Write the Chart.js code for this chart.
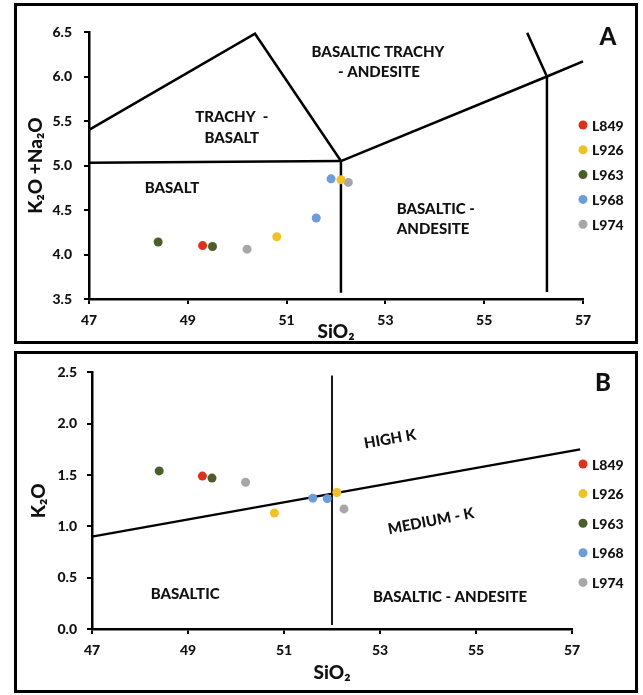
<!DOCTYPE html>
<html>
<head>
<meta charset="utf-8">
<script src="https://cdn.jsdelivr.net/npm/chart.js@4.4.1/dist/chart.umd.min.js"></script>
<style>
  body { margin: 0; background: #fff; }
  .panel { position: absolute; left: 14px; width: 618px; border: 3px solid #000; background: #fff; }
  #boxA { top: 3px; height: 335px; }
  #boxB { top: 351px; height: 336px; }
  canvas { display: block; }
</style>
</head>
<body>
<div class="panel" id="boxA"><canvas id="chartA" width="618" height="335"></canvas></div>
<div class="panel" id="boxB"><canvas id="chartB" width="618" height="336"></canvas></div>
<script>
const samples = ['L849', 'L926', 'L963', 'L968', 'L974'];
const colors = ['#da321d', '#f1c12c', '#4b5d2b', '#6e9bd9', '#a7a7a7'];

// one list per sample, same order in every array
const sio2   = [[49.3], [50.8, 52.1], [48.4, 49.5], [51.6, 51.9], [50.2, 52.25]];
const alkali = [[4.10], [4.20, 4.84], [4.14, 4.09], [4.41, 4.85], [4.06, 4.81]];
const k2o    = [[1.49], [1.13, 1.33], [1.54, 1.47], [1.275, 1.27], [1.43, 1.17]];

const xTicks  = [47, 49, 51, 53, 55, 57];
const yTicksA = [3.5, 4.0, 4.5, 5.0, 5.5, 6.0, 6.5];
const yTicksB = [0, 0.5, 1.0, 1.5, 2.0, 2.5];

// field boundaries as [SiO2, y] pairs
const tasLines = [
  [[47, 5.40], [50.36, 6.48], [52.1, 5.05]],
  [[47, 5.03], [52.1, 5.05]],
  [[52.1, 5.05], [52.1, 3.57]],
  [[52.1, 5.05], [56.27, 6.0], [57, 6.17]],
  [[55.87, 6.49], [56.27, 6.0], [56.27, 3.58]]
];
const kLines = [
  [[47, 0.90], [57.17, 1.75]],
  [[52.0, 2.47], [52.0, 0.04]]
];

const FONT = "Lato, 'Noto Sans', 'DejaVu Sans', sans-serif";
const W = 900;
Chart.defaults.font.family = FONT;
Chart.defaults.font.weight = W;
Chart.defaults.color = '#111';

const overlay = {
  id: 'overlay',
  afterDatasetsDraw(chart, args, opts) {
    const { ctx, scales: { x, y } } = chart;
    ctx.save();
    ctx.fillStyle = '#111';
    ctx.textBaseline = 'middle';
    ctx.font = W + ' 15px ' + FONT;
    opts.labels.forEach(l => {
      ctx.save();
      ctx.translate(x.getPixelForValue(l.x), y.getPixelForValue(l.y));
      ctx.rotate((l.rot || 0) * Math.PI / 180);
      ctx.textAlign = l.align || 'center';
      ctx.fillText(l.text, 0, 0);
      ctx.restore();
    });
    ctx.font = W + ' 14px ' + FONT;
    samples.forEach((s, i) => {
      const ly = opts.legend.y + i * opts.legend.step;
      ctx.fillStyle = colors[i];
      ctx.beginPath();
      ctx.arc(opts.legend.x, ly, 4.5, 0, Math.PI * 2);
      ctx.fill();
      ctx.fillStyle = '#111';
      ctx.textAlign = 'left';
      ctx.fillText(s, opts.legend.x + 9, ly + 1);
    });
    ctx.font = W + ' 24px ' + FONT;
    ctx.textAlign = 'center';
    ctx.fillText(opts.letter.text, opts.letter.x, opts.letter.y);
    ctx.restore();
  }
};

function buildDatasets(yVals, lines, lineWidths) {
  const pts = samples.map((s, i) => ({
    label: s,
    data: sio2[i].map((v, j) => ({ x: v, y: yVals[i][j] })),
    backgroundColor: colors[i],
    borderWidth: 0,
    pointRadius: 4.5,
    order: 0
  }));
  const bounds = lines.map((ln, k) => ({
    label: 'boundary',
    data: ln.map(p => ({ x: p[0], y: p[1] })),
    showLine: true,
    borderColor: '#000',
    borderWidth: lineWidths ? lineWidths[k] : 2.5,
    pointRadius: 0,
    fill: false,
    clip: false,
    order: 1
  }));
  return pts.concat(bounds);
}

function axis(ticks, min, max, fmt, title, tickPad, titlePad, extra) {
  return Object.assign({
    type: 'linear',
    min: min, max: max,
    afterBuildTicks: s => { s.ticks = ticks.map(v => ({ value: v })); },
    ticks: { font: { size: 14, weight: W }, color: '#111', callback: fmt, padding: tickPad },
    grid: { drawOnChartArea: false, drawTicks: true, tickLength: 5, color: '#000', lineWidth: 2 },
    border: { color: '#000', width: 2.5 },
    title: { display: true, text: title, font: { size: 19, weight: W }, color: '#111', padding: titlePad }
  }, extra);
}

function makeChart(id, yVals, lines, lineWidths, o) {
  return new Chart(document.getElementById(id), {
    type: 'scatter',
    data: { datasets: buildDatasets(yVals, lines, lineWidths) },
    options: {
      responsive: false,
      animation: false,
      devicePixelRatio: 1,
      layout: { padding: o.padding },
      plugins: {
        legend: { display: false },
        tooltip: { enabled: false },
        overlay: o.overlay
      },
      scales: {
        x: axis(xTicks, 47, 57, v => String(v), 'SiO\u2082', 8, o.xTitlePad, {
          afterFit: s => { s.height = o.xHeight; }
        }),
        y: axis(o.yTicks, o.yMin, o.yMax, v => v.toFixed(1), o.yTitle, o.yTickPad, o.yTitlePad, {
          afterFit: s => { s.width = o.yWidth; }
        })
      }
    },
    plugins: [overlay]
  });
}

makeChart('chartA', alkali, tasLines, null, {
  padding: { top: 26, right: 52, left: 0, bottom: 0 },
  xHeight: 42, yWidth: 72,
  yTicks: yTicksA, yMin: 3.5, yMax: 6.5,
  yTitle: 'K\u2082O +Na\u2082O',
  yTickPad: 12,
  yTitlePad: { top: 7, bottom: 0 },
  xTitlePad: { top: 0, bottom: -2 },
  overlay: {
    labels: [
      { text: 'BASALTIC TRACHY', x: 52.85, y: 6.275 },
      { text: '- ANDESITE', x: 52.87, y: 6.05 },
      { text: 'TRACHY  -', x: 49.89, y: 5.545 },
      { text: 'BASALT', x: 49.89, y: 5.31 },
      { text: 'BASALT', x: 48.68, y: 4.74 },
      { text: 'BASALTIC -', x: 53.23, y: 4.51, align: 'left' },
      { text: 'ANDESITE', x: 53.23, y: 4.29, align: 'left' }
    ],
    legend: { x: 566, y: 119, step: 24.8 },
    letter: { text: 'A', x: 591, y: 31 }
  }
});

makeChart('chartB', k2o, kLines, [2.5, 1.8], {
  padding: { top: 15, right: 63, left: 0, bottom: 0 },
  xHeight: 61, yWidth: 75,
  yTicks: yTicksB, yMin: 0, yMax: 2.5,
  yTitle: 'K\u2082O',
  yTickPad: 10,
  yTitlePad: { top: 10, bottom: 0 },
  xTitlePad: { top: 0, bottom: 6 },
  overlay: {
    labels: [
      { text: 'HIGH K', x: 53.21, y: 1.85, rot: -10 },
      { text: 'MEDIUM - K', x: 54.06, y: 1.05, rot: -11 },
      { text: 'BASALTIC - ANDESITE', x: 54.46, y: 0.31 },
      { text: 'BASALTIC', x: 48.94, y: 0.34 }
    ],
    legend: { x: 566, y: 110, step: 29.6 },
    letter: { text: 'B', x: 586, y: 29 }
  }
});
</script>
</body>
</html>
